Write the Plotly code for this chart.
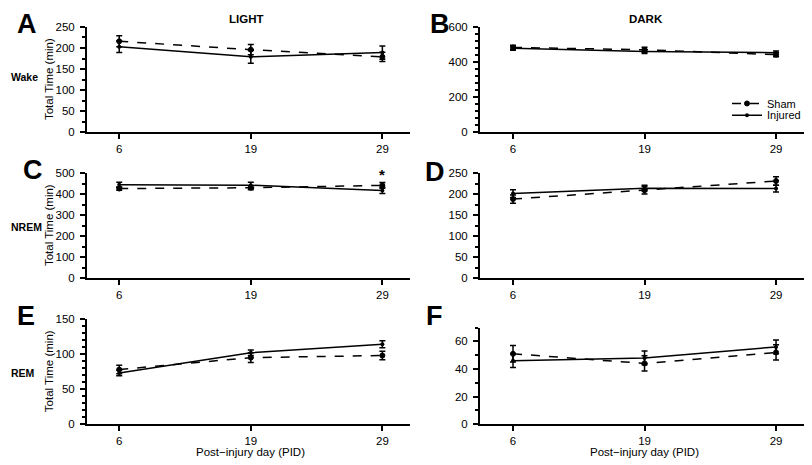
import plotly.graph_objects as go

# ---------------- data ----------------
days = ["6", "19", "29"]

wake_light_sham = [216, 196, 179]
wake_light_sham_err = [13, 12, 11]
wake_light_inj = [203, 179, 189]
wake_light_inj_err = [14, 15, 16]

wake_dark_sham = [483, 470, 442]
wake_dark_sham_err = [12, 14, 12]
wake_dark_inj = [479, 460, 453]
wake_dark_inj_err = [12, 12, 10]

nrem_light_sham = [426, 430, 441]
nrem_light_sham_err = [8, 10, 14]
nrem_light_inj = [444, 442, 417]
nrem_light_inj_err = [12, 14, 15]

nrem_dark_sham = [188, 209, 231]
nrem_dark_sham_err = [10, 9, 10]
nrem_dark_inj = [201, 214, 213]
nrem_dark_inj_err = [9, 7, 8]

rem_light_sham = [78, 95, 98]
rem_light_sham_err = [6, 7, 6]
rem_light_inj = [73, 102, 114]
rem_light_inj_err = [4, 4, 5]

rem_dark_sham = [51, 44, 52]
rem_dark_sham_err = [6, 5.5, 5.5]
rem_dark_inj = [46, 48, 56]
rem_dark_inj_err = [5, 5, 5]

panel_letters = ["A", "B", "C", "D", "E", "F"]
row_labels = ["Wake", "NREM", "REM"]
col_titles = ["LIGHT", "DARK"]
y_ranges = [[0, 250], [0, 600], [0, 500], [0, 250], [0, 150], [0, 70]]
y_dticks = [50, 200, 100, 50, 50, 20]
y_minor = [25, 40, 50, 25, 10, 10]
sig_day = "29"

# ---------------- layout geometry ----------------
OFF = 8  # page body margin
W, H = 812 - OFF, 465 - OFF
FONT = "Liberation Sans, Arial, Helvetica, sans-serif"


def px_x(v):
    return (v - OFF) / W


def px_y(v):
    return 1 - (v - OFF) / H


x_domains = [[px_x(87), px_x(410)], [px_x(480), px_x(808)]]
x_ranges = [[-0.245, 2.21], [-0.251, 2.243]]
y_domains = [
    [px_y(129.3), px_y(21.3)], [px_y(129.3), px_y(21.3)],
    [px_y(279.3), px_y(171.3)], [px_y(279.3), px_y(171.3)],
    [px_y(429.3), px_y(321.3)], [px_y(429.3), px_y(330)],
]

series = [
    (wake_light_sham, wake_light_sham_err, wake_light_inj, wake_light_inj_err),
    (wake_dark_sham, wake_dark_sham_err, wake_dark_inj, wake_dark_inj_err),
    (nrem_light_sham, nrem_light_sham_err, nrem_light_inj, nrem_light_inj_err),
    (nrem_dark_sham, nrem_dark_sham_err, nrem_dark_inj, nrem_dark_inj_err),
    (rem_light_sham, rem_light_sham_err, rem_light_inj, rem_light_inj_err),
    (rem_dark_sham, rem_dark_sham_err, rem_dark_inj, rem_dark_inj_err),
]

fig = go.Figure()
layout = {}
annotations = []

for i, (s, se, inj, ie) in enumerate(series):
    n = "" if i == 0 else str(i + 1)
    col = i % 2
    show = (i == 1)
    fig.add_trace(go.Scatter(
        x=days, y=s, xaxis="x" + n, yaxis="y" + n, name="Sham",
        mode="lines+markers", showlegend=show, legend="legend",
        line=dict(color="black", width=1.5, dash="dash"),
        marker=dict(symbol="circle", size=5, color="black",
                    line=dict(color="black", width=1)),
        error_y=dict(type="data", array=se, color="black", thickness=1.5, width=3),
    ))
    fig.add_trace(go.Scatter(
        x=days, y=inj, xaxis="x" + n, yaxis="y" + n, name="Injured",
        mode="lines+markers", showlegend=show, legend="legend2",
        line=dict(color="black", width=1.5),
        marker=dict(symbol="circle", size=4, color="black"),
        error_y=dict(type="data", array=ie, color="black", thickness=1.5, width=3),
    ))
    layout["xaxis" + n] = dict(
        domain=x_domains[col], anchor="y" + n, type="category",
        range=x_ranges[col], showline=True, linecolor="black", linewidth=2,
        ticks="outside", ticklen=5, tickwidth=1.5, tickcolor="black",
        showgrid=False, zeroline=False,
        tickfont=dict(family=FONT, size=11.5, color="black"),
    )
    layout["yaxis" + n] = dict(
        domain=y_domains[i], anchor="x" + n, range=y_ranges[i],
        dtick=y_dticks[i], tick0=0, showline=True, linecolor="black", linewidth=2,
        ticks="outside", ticklen=5, tickwidth=1.5, tickcolor="black",
        showgrid=False, zeroline=False, ticklabelstandoff=3,
        tickfont=dict(family=FONT, size=11.5, color="black"),
        minor=dict(dtick=y_minor[i], tick0=0, ticks="outside", ticklen=3,
                   tickwidth=1.5, tickcolor="black", showgrid=False),
    )

# panel letters
letter_pos = [(15, 18), (428, 18), (21, 168), (423, 170), (15, 318), (424, 318)]
for letter, (lx, ly) in zip(panel_letters, letter_pos):
    annotations.append(dict(
        text=f"<b>{letter}</b>", x=px_x(lx), y=px_y(ly), xref="paper", yref="paper",
        xanchor="left", yanchor="middle", showarrow=False,
        font=dict(family=FONT, size=27, color="black")))

# column titles
for t, cx in zip(col_titles, [246, 646]):
    annotations.append(dict(
        text=f"<b>{t}</b>", x=px_x(cx), y=px_y(13), xref="paper", yref="paper",
        xanchor="center", yanchor="middle", showarrow=False,
        font=dict(family=FONT, size=11.5, color="black")))

# row labels
for t, cy in zip(row_labels, [73, 227, 377]):
    annotations.append(dict(
        text=f"<b>{t}</b>", x=px_x(8.5), y=px_y(cy), xref="paper", yref="paper",
        xanchor="left", yanchor="middle", showarrow=False,
        font=dict(family=FONT, size=10.5, color="black")))

# y titles (left column)
for i in [0, 2, 4]:
    d = y_domains[i]
    annotations.append(dict(
        text="Total Time (min)", x=px_x(48.5), y=(d[0] + d[1]) / 2,
        xref="paper", yref="paper", textangle=-90,
        xanchor="center", yanchor="middle", showarrow=False,
        font=dict(family=FONT, size=11.5, color="black")))

# x titles (bottom row)
for n in ["5", "6"]:
    annotations.append(dict(
        text="Post\u2212injury day (PID)", x=days.index("19"), y=px_y(458),
        xref="x" + n, yref="paper", xanchor="center", yanchor="middle",
        showarrow=False, font=dict(family=FONT, size=11.5, color="black")))

# significance asterisk (panel C, PID 29)
annotations.append(dict(
    text="<b>*</b>", x=days.index(sig_day), y=492, xref="x3", yref="y3",
    xanchor="center", yanchor="middle", showarrow=False,
    font=dict(family=FONT, size=15, color="black")))

legend_common = dict(xanchor="left", yanchor="top", bgcolor="rgba(0,0,0,0)",
                     font=dict(family=FONT, size=11, color="black"),
                     itemwidth=30, tracegroupgap=0)

fig.update_layout(
    **layout,
    annotations=annotations,
    width=W, height=H,
    margin=dict(l=0, r=0, t=0, b=0),
    paper_bgcolor="white", plot_bgcolor="white",
    font=dict(family=FONT, color="black"),
    showlegend=True,
    legend=dict(x=px_x(727), y=px_y(85), **legend_common),
    legend2=dict(x=px_x(727), y=px_y(97), **legend_common),
)

fig.write_html("out.html")
